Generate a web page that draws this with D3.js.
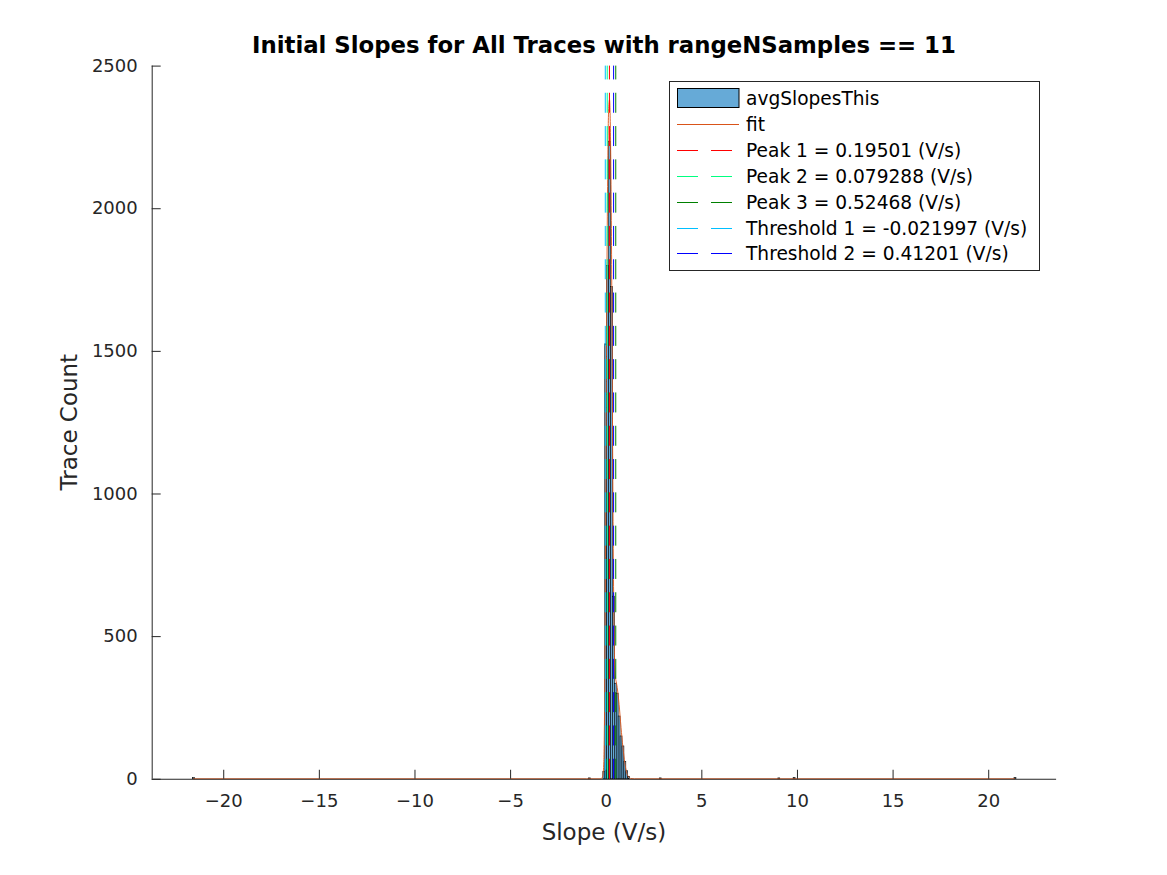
<!DOCTYPE html>
<html>
<head>
<meta charset="utf-8">
<script src="https://cdn.jsdelivr.net/npm/d3@7"></script>
<style>
  html, body { margin: 0; padding: 0; background: #fff; }
  svg { display: block; font-family: "DejaVu Sans", sans-serif; }
</style>
</head>
<body>
<svg id="chart" width="1167" height="875"></svg>
<script>
// ---- data ----
const titleText = "Initial Slopes for All Traces with rangeNSamples == 11";
const xLabelText = "Slope (V/s)";
const yLabelText = "Trace Count";
const xTicks = [-20, -15, -10, -5, 0, 5, 10, 15, 20];
const yTicks = [0, 500, 1000, 1500, 2000, 2500];
const xDomain = [-23.74, 23.55];
const yDomain = [0, 2500];

// histogram bins (left edge, right edge, count) - non-empty bins only
const binLeft  = [-21.60, -0.90, -0.15, -0.05, 0.05, 0.15, 0.25, 0.35, 0.45, 0.55, 0.65, 0.75, 0.85, 0.95, 1.05, 1.15, 2.80, 9.00, 9.80, 21.35];
const binRight = [-21.50, -0.80, -0.05,  0.05, 0.15, 0.25, 0.35, 0.45, 0.55, 0.65, 0.75, 0.85, 0.95, 1.05, 1.15, 1.25, 2.90, 9.10, 9.90, 21.45];
const binCount = [4, 3, 25, 1525, 1800, 2235, 1725, 640, 335, 300, 220, 150, 115, 60, 28, 8, 3, 3, 4, 4];

// fitted curve samples
const fitX = [-21.57, -5, -1, -0.3, -0.2, -0.15, -0.1, -0.05, 0, 0.05, 0.1, 0.15, 0.2, 0.25, 0.3, 0.35, 0.4, 0.45, 0.5, 0.55, 0.6, 0.7, 0.8, 0.9, 1.0, 1.1, 1.2, 1.3, 1.5, 3, 10, 21.4];
const fitY = [0, 0, 0, 0, 2, 10, 60, 320, 900, 1600, 2100, 2340, 2380, 2250, 1900, 1300, 750, 450, 360, 340, 320, 260, 180, 110, 55, 20, 6, 1, 0, 0, 0, 0];

// vertical marker lines
const markerNames  = ["Peak 1 = 0.19501 (V/s)", "Peak 2 = 0.079288 (V/s)", "Peak 3 = 0.52468 (V/s)", "Threshold 1 = -0.021997 (V/s)", "Threshold 2 = 0.41201 (V/s)"];
const markerValues = [0.19501, 0.079288, 0.52468, -0.021997, 0.41201];
const markerColors = ["#ff0000", "#00ff80", "#008000", "#00bfff", "#0000ff"];

const histName = "avgSlopesThis";
const fitName = "fit";

// ---- layout ----
const svg = d3.select("#chart");
const L = 151.7, R = 1056.1, T = 65.6, B = 778.75;
const axisColor = "#262626";
const histFill = "#66aad7";
const fitColor = "#d95319";

const x = d3.scaleLinear().domain(xDomain).range([L, R]);
const y = d3.scaleLinear().domain(yDomain).range([B, T]);

// histogram bars
const bins = binLeft.map((l, i) => ({ l, r: binRight[i], c: binCount[i] }));
svg.append("g").selectAll("rect").data(bins).join("rect")
  .attr("x", d => x(d.l))
  .attr("y", d => y(d.c))
  .attr("width", d => Math.max(0.5, x(d.r) - x(d.l)))
  .attr("height", d => y(0) - y(d.c))
  .attr("fill", histFill)
  .attr("stroke", "#000")
  .attr("stroke-width", 0.6);

// fit line
const fitPts = fitX.map((v, i) => [v, fitY[i]]);
svg.append("path")
  .datum(fitPts)
  .attr("fill", "none")
  .attr("stroke", fitColor)
  .attr("stroke-width", 0.9)
  .attr("d", d3.line().x(d => x(d[0])).y(d => y(d[1])).curve(d3.curveMonotoneX));

// vertical dashed lines (drawn bottom to top)
svg.append("g").selectAll("line").data(markerValues).join("line")
  .attr("x1", d => x(d)).attr("x2", d => x(d))
  .attr("y1", y(0)).attr("y2", y(2500))
  .attr("stroke", (d, i) => markerColors[i])
  .attr("stroke-width", 1)
  .attr("stroke-dasharray", "20,13.3");

// axes
const xAxis = d3.axisBottom(x).tickValues(xTicks).tickSize(-9).tickPadding(15).tickFormat(d3.format("d"));
const yAxis = d3.axisLeft(y).tickValues(yTicks).tickSize(-9).tickPadding(14).tickFormat(d3.format("d"));

const gx = svg.append("g").attr("transform", `translate(0,${B})`).call(xAxis);
const gy = svg.append("g").attr("transform", `translate(${L},0)`).call(yAxis);
[gx, gy].forEach(g => {
  g.select(".domain").attr("stroke", axisColor).attr("stroke-width", 1);
  g.selectAll(".tick line").attr("stroke", axisColor).attr("stroke-width", 1);
  g.selectAll(".tick text").attr("fill", axisColor).style("font-size", "18px").style("font-family", "DejaVu Sans");
});
gx.select(".domain").attr("d", `M${L},0.5H${R}`);
gy.select(".domain").attr("d", `M0.5,${B}V${T}`);

// title & labels
svg.append("text")
  .attr("x", (L + R) / 2).attr("y", 53)
  .attr("text-anchor", "middle")
  .style("font-weight", "bold").style("font-size", "22.8px")
  .attr("fill", "#000")
  .text(titleText);

svg.append("text")
  .attr("x", (L + R) / 2).attr("y", 840)
  .attr("text-anchor", "middle")
  .style("font-size", "23px")
  .attr("fill", axisColor)
  .text(xLabelText);

svg.append("text")
  .attr("transform", `translate(77,${(T + B) / 2}) rotate(-90)`)
  .attr("text-anchor", "middle")
  .style("font-size", "23px")
  .attr("fill", axisColor)
  .text(yLabelText);

// legend
const lg = svg.append("g");
const lgX = 669.5, lgY = 81.5, lgW = 370, lgH = 189;
lg.append("rect").attr("x", lgX).attr("y", lgY).attr("width", lgW).attr("height", lgH)
  .attr("fill", "#fff").attr("stroke", axisColor).attr("stroke-width", 1);

const rowY = i => Math.round(98 + i * 25.9) + 0.5;
const entries = [{ name: histName, type: "hist" }, { name: fitName, type: "fit" }]
  .concat(markerNames.map((n, i) => ({ name: n, type: "dash", color: markerColors[i] })));

entries.forEach((e, i) => {
  const cy = rowY(i);
  if (e.type === "hist") {
    lg.append("rect").attr("x", 677.5).attr("y", cy - 10).attr("width", 61.5).attr("height", 19)
      .attr("fill", histFill).attr("stroke", "#000").attr("stroke-width", 1);
  } else if (e.type === "fit") {
    lg.append("line").attr("x1", 677).attr("x2", 739).attr("y1", cy).attr("y2", cy)
      .attr("stroke", fitColor).attr("stroke-width", 1);
  } else {
    lg.append("line").attr("x1", 677).attr("x2", 739).attr("y1", cy).attr("y2", cy)
      .attr("stroke", e.color).attr("stroke-width", 1).attr("stroke-dasharray", "21,13");
  }
  lg.append("text").attr("x", 746).attr("y", cy).attr("dy", "0.36em")
    .style("font-size", "18.6px").attr("fill", "#000").text(e.name);
});
</script>
</body>
</html>
